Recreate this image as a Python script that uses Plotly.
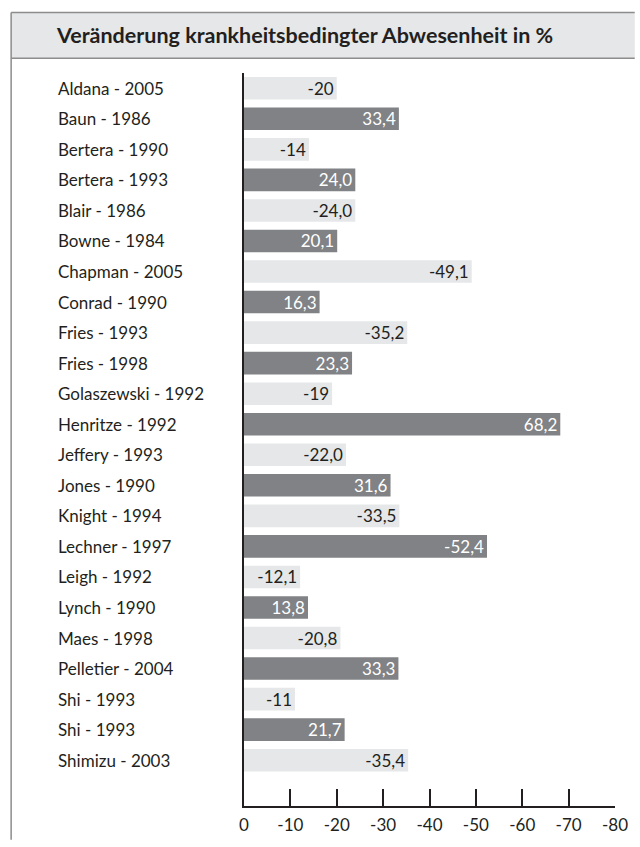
import plotly.graph_objects as go

title = "Veränderung krankheitsbedingter Abwesenheit in %"

studies = [
    "Aldana - 2005", "Baun - 1986", "Bertera - 1990", "Bertera - 1993",
    "Blair - 1986", "Bowne - 1984", "Chapman - 2005", "Conrad - 1990",
    "Fries - 1993", "Fries - 1998", "Golaszewski - 1992", "Henritze - 1992",
    "Jeffery - 1993", "Jones - 1990", "Knight - 1994", "Lechner - 1997",
    "Leigh - 1992", "Lynch - 1990", "Maes - 1998", "Pelletier - 2004",
    "Shi - 1993", "Shi - 1993", "Shimizu - 2003",
]

# values as printed in the chart (bar length is the magnitude)
values = [
    -20, 33.4, -14, 24.0, -24.0, 20.1, -49.1, 16.3, -35.2, 23.3, -19, 68.2,
    -22.0, 31.6, -33.5, -52.4, -12.1, 13.8, -20.8, 33.3, -11, 21.7, -35.4,
]

value_labels = [
    "-20", "33,4", "-14", "24,0", "-24,0", "20,1", "-49,1", "16,3", "-35,2",
    "23,3", "-19", "68,2", "-22,0", "31,6", "-33,5", "-52,4", "-12,1", "13,8",
    "-20,8", "33,3", "-11", "21,7", "-35,4",
]

tick_values = [0, 10, 20, 30, 40, 50, 60, 70, 80]
tick_labels = ["0", "-10", "-20", "-30", "-40", "-50", "-60", "-70", "-80"]

LIGHT = "#e6e7e8"
DARK = "#808285"
INK = "#231f20"
FRAME = "#8c8c8c"
FONT = "Lato"

idx = list(range(len(studies)))
bar_colors = [LIGHT if i % 2 == 0 else DARK for i in idx]
text_colors = [INK if i % 2 == 0 else "white" for i in idx]

fig = go.Figure()
fig.add_trace(go.Bar(
    x=[abs(v) for v in values],
    y=idx,
    orientation="h",
    marker=dict(color=bar_colors, line=dict(width=0)),
    text=value_labels,
    textposition="inside",
    insidetextanchor="end",
    textangle=0,
    textfont=dict(family=FONT, size=17, color=text_colors),
    hoverinfo="skip",
))

# plot area in pixels: x 244..620, y 73..813
L, R, T, B = 244, 620, 73, 813
W, H = 640, 847
def px(x):
    return (x - L) / (R - L)
def py(y):
    return (B - y) / (B - T)

shapes = [
    # header band fill
    dict(type="rect", xref="paper", yref="paper",
         x0=px(8), x1=px(W), y0=py(58), y1=py(12),
         fillcolor=LIGHT, line=dict(width=0), layer="below"),
    # header top and bottom rules
    dict(type="line", xref="paper", yref="paper",
         x0=px(8), x1=px(W), y0=py(12), y1=py(12),
         line=dict(color=FRAME, width=1.5)),
    dict(type="line", xref="paper", yref="paper",
         x0=px(8), x1=px(W), y0=py(58), y1=py(58),
         line=dict(color=FRAME, width=1.5)),
    # left frame line
    dict(type="line", xref="paper", yref="paper",
         x0=px(8), x1=px(8), y0=py(12), y1=py(H),
         line=dict(color=FRAME, width=1.5)),
]

annotations = [
    dict(text=title, xref="paper", yref="paper", x=px(51), y=py(35),
         xanchor="left", yanchor="middle", showarrow=False,
         font=dict(family=FONT, size=21.5, color=INK, weight="bold")),
]
for i, s in zip(idx, studies):
    annotations.append(dict(
        text=s, xref="paper", yref="y", x=px(53), y=i,
        xanchor="left", yanchor="middle", showarrow=False,
        font=dict(family=FONT, size=17, color=INK)))

fig.update_layout(
    width=W, height=H,
    margin=dict(l=L, r=W - R, t=T, b=H - B, pad=0),
    paper_bgcolor="white", plot_bgcolor="white",
    showlegend=False,
    bargap=0.26,
    uniformtext=dict(minsize=17, mode="show"),
    shapes=shapes,
    annotations=annotations,
    xaxis=dict(
        range=[0, 80], tickvals=tick_values, ticktext=tick_labels,
        ticks="inside", ticklen=17, tickwidth=1.5, tickcolor=INK,
        ticklabelstandoff=3,
        showline=True, linecolor=INK, linewidth=1.5,
        showgrid=False, zeroline=False,
        tickfont=dict(family=FONT, size=17, color=INK),
        fixedrange=True,
    ),
    yaxis=dict(
        range=[23.5, -0.5], showticklabels=False, ticks="",
        showline=True, linecolor=INK, linewidth=2,
        showgrid=False, zeroline=False, fixedrange=True,
    ),
    hovermode=False,
)

fig.write_html(
    "out.html",
    config={"displayModeBar": False},
    post_script=(
        "var gd=document.getElementById('{plot_id}');"
        "gd.style.position='fixed';gd.style.left='0px';gd.style.top='0px';"
        "var de=document.documentElement, b=document.body;"
        "[de,b].forEach(function(e){e.style.margin='0';e.style.padding='0';"
        "e.style.overflow='hidden';e.style.width='640px';e.style.height='847px';});"
    ),
)
